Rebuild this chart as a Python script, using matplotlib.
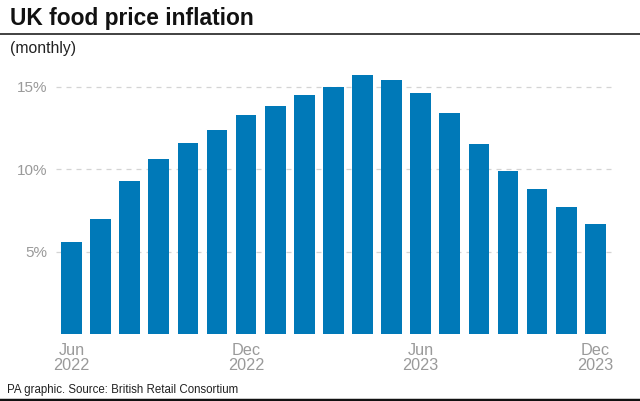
import matplotlib.pyplot as plt
from matplotlib.lines import Line2D

# monthly UK food price inflation, Jun 2022 - Dec 2023 (%)
months = ['Jun 2022', 'Jul 2022', 'Aug 2022', 'Sep 2022', 'Oct 2022', 'Nov 2022',
          'Dec 2022', 'Jan 2023', 'Feb 2023', 'Mar 2023', 'Apr 2023', 'May 2023',
          'Jun 2023', 'Jul 2023', 'Aug 2023', 'Sep 2023', 'Oct 2023', 'Nov 2023',
          'Dec 2023']
inflation = [5.6, 7.0, 9.3, 10.6, 11.6, 12.4, 13.3, 13.8, 14.5, 15.0, 15.7, 15.4,
             14.6, 13.4, 11.5, 9.9, 8.8, 7.7, 6.7]
tick_idx = [0, 6, 12, 18]
tick_labels = ['Jun\n2022', 'Dec\n2022', 'Jun\n2023', 'Dec\n2023']
y_ticks = [5, 10, 15]
y_labels = ['5%', '10%', '15%']

plt.rcParams['font.family'] = ['Liberation Sans', 'DejaVu Sans']

fig = plt.figure(figsize=(6.4, 4.01), dpi=100)
ax = fig.add_axes([0.0875, 0.1663, 0.870, 0.659])

ax.bar(range(len(inflation)), inflation, width=0.71, color='#0079b8', zorder=2)

ax.set_xlim(-0.53, 18.6)
ax.set_ylim(0, 16)

ax.set_yticks(y_ticks)
ax.set_yticklabels(y_labels)
ax.set_xticks(tick_idx)
ax.set_xticklabels(tick_labels, linespacing=1.05)
ax.tick_params(axis='y', length=0, pad=6, labelsize=11, labelcolor='#9a9a9a')
ax.tick_params(axis='x', length=0, pad=6, labelsize=11.7, labelcolor='#9a9a9a')

ax.grid(axis='y', linestyle=(0, (4, 4)), color='#d4d4d4', linewidth=0.9, zorder=0)
for s in ax.spines.values():
    s.set_visible(False)

fig.text(0.0156, 0.955, 'UK food price inflation', fontsize=16.4, fontweight='bold',
         color='#111111', va='center', ha='left')
fig.add_artist(Line2D([0, 1], [0.915, 0.915], color='#333333', linewidth=1.3,
                      transform=fig.transFigure))
fig.text(0.0156, 0.88, '(monthly)', fontsize=11.3, color='#222222', va='center', ha='left')
fig.text(0.011, 0.027, 'PA graphic. Source: British Retail Consortium', fontsize=8.3,
         color='#222222', va='center', ha='left')
fig.add_artist(Line2D([0, 1], [0.002, 0.002], color='#111111', linewidth=2.5,
                      transform=fig.transFigure))

fig.savefig('out.png', dpi=100)
